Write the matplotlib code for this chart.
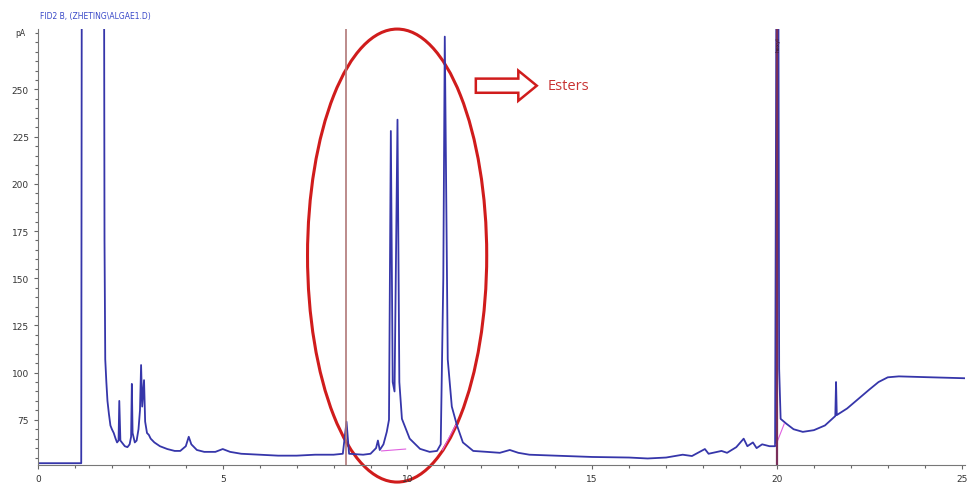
import matplotlib
matplotlib.use("Agg")
import matplotlib.pyplot as plt
from matplotlib.patches import Ellipse, FancyArrow

# retention time (min) and detector signal (pA)
rt = [0.0, 1.17, 1.19, 1.78, 1.80, 1.82, 1.85, 1.88, 1.92, 1.96, 2.0, 2.05, 2.10,
      2.14, 2.18, 2.20, 2.23, 2.35, 2.42, 2.48, 2.52, 2.54, 2.56, 2.62, 2.67,
      2.72, 2.76, 2.79, 2.82, 2.87, 2.90, 2.95, 3.0, 3.05, 3.15, 3.3, 3.5, 3.7,
      3.85, 4.0, 4.08, 4.15, 4.3, 4.5, 4.8, 5.0, 5.2, 5.5, 6.0, 6.5, 7.0, 7.5,
      8.0, 8.25, 8.35, 8.42, 8.8, 9.0, 9.15, 9.2, 9.25, 9.35, 9.44, 9.5, 9.55,
      9.6, 9.65, 9.73, 9.78, 9.85, 10.06, 10.34, 10.6, 10.8, 10.9, 10.97, 11.01,
      11.09, 11.2, 11.34, 11.5, 11.78, 12.15, 12.5, 12.77, 13.0, 13.3, 14.0,
      15.0, 16.0, 16.5, 17.0, 17.45, 17.7, 18.05, 18.15, 18.5, 18.65, 18.9,
      19.1, 19.2, 19.35, 19.45, 19.6, 19.8, 19.95, 20.0, 20.03, 20.06, 20.1,
      20.25, 20.45, 20.7, 21.0, 21.3, 21.58, 21.6, 21.62, 21.9, 22.2, 22.5,
      22.75, 23.0, 23.3, 24.0, 25.1]
signal = [52, 52, 400, 400, 170, 107, 95, 85, 78, 72, 70, 68, 65,
          63, 64, 85, 64, 61, 60.5, 62, 66, 94, 68, 63, 64,
          70, 80, 104, 82, 96, 74, 68, 67, 65, 63, 61, 59.5, 58.5,
          58.5, 61, 66, 62, 59, 58, 58, 59.5, 58, 57, 56.5, 56, 56, 56.5,
          56.5, 57, 74, 57, 56.5, 57, 60, 64, 59, 62, 68.6, 75, 228,
          95, 90, 234, 95, 75.5, 65, 59.6, 58, 58.5, 62, 150, 278,
          107, 82, 72, 63, 58.5, 58, 57.5, 59, 57.5, 56.5, 56,
          55.3, 55, 54.5, 55, 56.5, 55.8, 59.5, 57, 58.5, 57.5, 60.5,
          65, 61, 63, 60, 62, 61, 61, 400, 400, 102, 75.5,
          73, 70, 68.6, 69.5, 72, 77, 95, 77.5, 81, 86, 91,
          95, 97.5, 98, 97.6, 97]

# integration baselines (magenta)
base_t = [(9.3, 9.95), (10.95, 11.3), (19.98, 20.2)]
base_y = [(58.5, 59.5), (59, 72), (62, 73)]

markers = [8.33, 20.0]

fig = plt.figure(figsize=(9.67, 4.85), dpi=100)
ax = fig.add_axes([0.0393, 0.039, 0.959, 0.899])

ax.plot(rt, signal, color="#3636aa", lw=1.3)
for (t0, t1), (y0, y1) in zip(base_t, base_y):
    ax.plot([t0, t1], [y0, y1], color="#e060e0", lw=0.8)

ax.axvline(markers[0], color="#b07878", lw=1.2)
ax.axvline(markers[1], color="#7a2f5a", lw=1.6)
ax.text(20.02, 278, "hexyl", rotation=90, fontsize=4, color="#3a1a30",
        ha="center", va="top")

ax.set_xlim(0, 25.1)
ax.set_ylim(51, 282)
ax.set_xticks([0, 5, 10, 15, 20, 25])
ax.set_xticks(range(0, 26), minor=True)
ax.set_yticks([75, 100, 125, 150, 175, 200, 225, 250])
ax.set_yticks(range(55, 281, 5), minor=True)
for s in ["top", "right"]:
    ax.spines[s].set_visible(False)
for s in ["left", "bottom"]:
    ax.spines[s].set_color("#777777")
ax.tick_params(which="both", direction="out", colors="#666666", labelsize=6.5,
               labelcolor="#333333", width=0.8)
ax.tick_params(which="major", length=3)
ax.tick_params(which="minor", length=2)

# annotation
ell = Ellipse((9.72, 162), 4.85, 240, fill=False, edgecolor="#d01c1c",
              lw=2.2, clip_on=False)
ax.add_patch(ell)
arr = FancyArrow(11.85, 252, 1.65, 0, width=7.5, head_width=16, head_length=0.5,
                 length_includes_head=True, facecolor="white",
                 edgecolor="#d01c1c", lw=1.8)
ax.add_patch(arr)
ax.text(13.8, 252, "Esters", color="#c83232", fontsize=10.5,
        family="Open Sans", va="center")

fig.text(0.041, 0.967, "FID2 B, (ZHETING\\ALGAE1.D)", color="#3848c8",
         fontsize=5.5, va="center")
fig.text(0.016, 0.930, "pA", color="#333333", fontsize=5.5, va="center")

fig.savefig("out.png", dpi=100)
